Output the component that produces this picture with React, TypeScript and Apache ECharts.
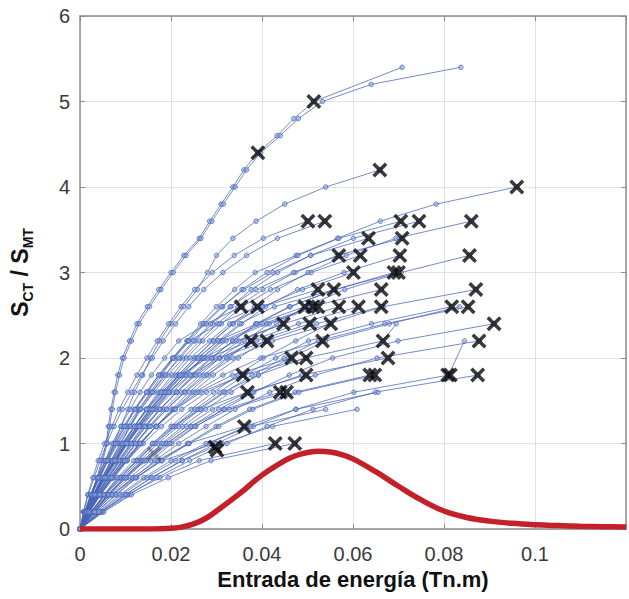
import React, { useEffect, useRef } from "react";
import * as echarts from "echarts";

// Shared y levels (S_CT / S_MT measured in steps of 0.2)
const yLevels = [0, 0.2, 0.4, 0.6, 0.8, 1.0, 1.2, 1.4, 1.6, 1.8, 2.0, 2.2, 2.4, 2.6, 2.8, 3.0, 3.2, 3.4, 3.6, 3.8, 4.0, 4.2, 4.4, 4.6, 4.8, 5.0, 5.2, 5.4];

// Each curve: energy input (x) at successive y levels (null = no sample at that level)
const curves: (number | null)[][] = [
  [0, 0.0012, 0.0025, 0.0037, 0.0048, 0.0058, 0.0062, 0.0068, 0.0075, 0.0083, 0.0093, 0.0109, 0.0125, 0.0148, 0.0173, 0.0200, 0.0228, 0.0262, 0.0285, 0.0310, 0.0336, 0.0360, 0.0391, 0.0433, 0.0470, 0.0514, null, 0.0708],
  [0, 0.0013, 0.0027, 0.0039, 0.0050, 0.0060, 0.0065, 0.0071, 0.0078, 0.0087, 0.0097, 0.0113, 0.0130, 0.0153, 0.0178, 0.0205, 0.0233, 0.0266, 0.0290, 0.0315, 0.0341, 0.0366, 0.0397, 0.0440, 0.0480, 0.0533, 0.0640, 0.0837],
  [0, 0.0015, 0.0030, 0.0045, 0.0060, 0.0075, 0.0090, 0.0105, 0.0120, 0.0138, 0.0155, 0.0175, 0.0200, 0.0228, 0.0258, 0.0280, 0.0300, 0.0336, 0.0387, 0.0450, 0.0540, 0.0659],
  [0, 0.0015, 0.0032, 0.0050, 0.0068, 0.0088, 0.0110, 0.0130, 0.0155, 0.0180, 0.0205, 0.0235, 0.0265, 0.0300, 0.0340, 0.0385, 0.0475, 0.0566, 0.0660, 0.0783, 0.0960],
  [0, 0.0007, 0.0017, 0.0028, 0.0040, 0.0054, 0.0070, 0.0086, 0.0105, 0.0125, 0.0147, 0.0170, 0.0195, 0.0222, 0.0252, 0.0291, 0.0339, 0.0403, 0.0499],
  [0, 0.0008, 0.0018, 0.0031, 0.0044, 0.0059, 0.0075, 0.0093, 0.0114, 0.0135, 0.0159, 0.0183, 0.0210, 0.0239, 0.0272, 0.0314, 0.0366, 0.0434, 0.0538],
  [0, 0.0011, 0.0024, 0.0040, 0.0057, 0.0077, 0.0099, 0.0122, 0.0149, 0.0176, 0.0208, 0.0240, 0.0275, 0.0314, 0.0356, 0.0411, 0.0479, 0.0569, 0.0705],
  [0, 0.0011, 0.0025, 0.0042, 0.0060, 0.0081, 0.0104, 0.0129, 0.0157, 0.0186, 0.0220, 0.0253, 0.0291, 0.0332, 0.0376, 0.0434, 0.0507, 0.0601, 0.0745],
  [0, 0.0013, 0.0029, 0.0049, 0.0070, 0.0094, 0.0120, 0.0149, 0.0181, 0.0215, 0.0254, 0.0292, 0.0335, 0.0383, 0.0434, 0.0501, 0.0585, 0.0694, 0.0860],
  [0, 0.0010, 0.0023, 0.0038, 0.0056, 0.0074, 0.0096, 0.0119, 0.0146, 0.0173, 0.0203, 0.0236, 0.0271, 0.0311, 0.0360, 0.0424, 0.0507, 0.0634],
  [0, 0.0011, 0.0026, 0.0042, 0.0062, 0.0083, 0.0108, 0.0133, 0.0163, 0.0193, 0.0227, 0.0263, 0.0302, 0.0347, 0.0402, 0.0473, 0.0566, 0.0708],
  [0, 0.0014, 0.0030, 0.0048, 0.0068, 0.0090, 0.0111, 0.0134, 0.0159, 0.0188, 0.0216, 0.0250, 0.0287, 0.0330, 0.0387, 0.0469, 0.0569],
  [0, 0.0015, 0.0033, 0.0052, 0.0074, 0.0097, 0.0120, 0.0145, 0.0172, 0.0203, 0.0234, 0.0270, 0.0311, 0.0357, 0.0419, 0.0508, 0.0616],
  [0, 0.0018, 0.0037, 0.0059, 0.0084, 0.0111, 0.0137, 0.0166, 0.0197, 0.0232, 0.0267, 0.0309, 0.0355, 0.0408, 0.0478, 0.0580, 0.0703],
  [0, 0.0021, 0.0045, 0.0072, 0.0103, 0.0135, 0.0167, 0.0202, 0.0240, 0.0282, 0.0325, 0.0376, 0.0432, 0.0496, 0.0582, 0.0706, 0.0856],
  [0, 0.0016, 0.0034, 0.0054, 0.0078, 0.0102, 0.0126, 0.0154, 0.0185, 0.0216, 0.0252, 0.0293, 0.0337, 0.0401, 0.0489, 0.0601],
  [0, 0.0019, 0.0039, 0.0062, 0.0090, 0.0117, 0.0145, 0.0177, 0.0212, 0.0248, 0.0290, 0.0336, 0.0386, 0.0460, 0.0561, 0.0690],
  [0, 0.0014, 0.0031, 0.0052, 0.0076, 0.0103, 0.0133, 0.0166, 0.0203, 0.0243, 0.0288, 0.0336, 0.0390, 0.0462, 0.0560, 0.0700],
  [0, 0.0015, 0.0032, 0.0051, 0.0074, 0.0096, 0.0120, 0.0146, 0.0176, 0.0209, 0.0242, 0.0285, 0.0329, 0.0401, 0.0523],
  [0, 0.0016, 0.0034, 0.0055, 0.0079, 0.0103, 0.0128, 0.0156, 0.0188, 0.0223, 0.0258, 0.0304, 0.0351, 0.0427, 0.0558],
  [0, 0.0019, 0.0040, 0.0065, 0.0094, 0.0122, 0.0152, 0.0185, 0.0223, 0.0264, 0.0307, 0.0361, 0.0416, 0.0507, 0.0662],
  [0, 0.0025, 0.0053, 0.0085, 0.0124, 0.0160, 0.0200, 0.0244, 0.0293, 0.0347, 0.0403, 0.0474, 0.0547, 0.0666, 0.0870],
  [0, 0.0011, 0.0024, 0.0038, 0.0055, 0.0071, 0.0090, 0.0110, 0.0132, 0.0157, 0.0186, 0.0217, 0.0278, 0.0354],
  [0, 0.0012, 0.0026, 0.0042, 0.0060, 0.0078, 0.0099, 0.0121, 0.0146, 0.0173, 0.0205, 0.0239, 0.0306, 0.0390],
  [0, 0.0015, 0.0033, 0.0053, 0.0077, 0.0099, 0.0125, 0.0153, 0.0185, 0.0219, 0.0260, 0.0303, 0.0388, 0.0494],
  [0, 0.0016, 0.0034, 0.0055, 0.0079, 0.0103, 0.0130, 0.0159, 0.0191, 0.0227, 0.0269, 0.0314, 0.0402, 0.0512],
  [0, 0.0016, 0.0035, 0.0056, 0.0081, 0.0105, 0.0132, 0.0162, 0.0196, 0.0232, 0.0275, 0.0321, 0.0411, 0.0523],
  [0, 0.0018, 0.0038, 0.0061, 0.0088, 0.0114, 0.0144, 0.0176, 0.0213, 0.0252, 0.0299, 0.0349, 0.0447, 0.0569],
  [0, 0.0019, 0.0041, 0.0066, 0.0095, 0.0123, 0.0155, 0.0190, 0.0229, 0.0271, 0.0322, 0.0376, 0.0480, 0.0612],
  [0, 0.0021, 0.0044, 0.0071, 0.0103, 0.0133, 0.0167, 0.0205, 0.0248, 0.0293, 0.0348, 0.0406, 0.0520, 0.0662],
  [0, 0.0025, 0.0055, 0.0088, 0.0127, 0.0164, 0.0207, 0.0253, 0.0306, 0.0362, 0.0430, 0.0502, 0.0641, 0.0817],
  [0, 0.0026, 0.0057, 0.0092, 0.0132, 0.0171, 0.0216, 0.0264, 0.0319, 0.0378, 0.0449, 0.0524, 0.0670, 0.0853],
  [0, 0.0030, 0.0062, 0.0098, 0.0138, 0.0180, 0.0226, 0.0276, 0.0332, 0.0392, 0.0462, 0.0540, 0.0680, 0.0834],
  [0, 0.0015, 0.0033, 0.0054, 0.0076, 0.0099, 0.0125, 0.0155, 0.0188, 0.0226, 0.0273, 0.0343, 0.0447],
  [0, 0.0017, 0.0037, 0.0061, 0.0086, 0.0112, 0.0141, 0.0175, 0.0212, 0.0255, 0.0308, 0.0388, 0.0505],
  [0, 0.0018, 0.0040, 0.0066, 0.0094, 0.0122, 0.0154, 0.0191, 0.0231, 0.0278, 0.0336, 0.0423, 0.0551],
  [0, 0.0030, 0.0066, 0.0109, 0.0155, 0.0202, 0.0255, 0.0316, 0.0382, 0.0460, 0.0555, 0.0699, 0.0910],
  [0, 0.0014, 0.0030, 0.0050, 0.0071, 0.0093, 0.0119, 0.0146, 0.0179, 0.0221, 0.0280, 0.0376],
  [0, 0.0015, 0.0033, 0.0055, 0.0077, 0.0102, 0.0130, 0.0160, 0.0195, 0.0242, 0.0306, 0.0411],
  [0, 0.0019, 0.0043, 0.0071, 0.0100, 0.0132, 0.0168, 0.0207, 0.0253, 0.0314, 0.0397, 0.0533],
  [0, 0.0024, 0.0054, 0.0089, 0.0125, 0.0165, 0.0210, 0.0259, 0.0316, 0.0392, 0.0496, 0.0666, 0.0695],
  [0, 0.0032, 0.0071, 0.0118, 0.0165, 0.0217, 0.0277, 0.0341, 0.0417, 0.0517, 0.0653, 0.0877],
  [0, 0.0019, 0.0042, 0.0070, 0.0098, 0.0130, 0.0167, 0.0209, 0.0260, 0.0335, 0.0465],
  [0, 0.0020, 0.0045, 0.0075, 0.0104, 0.0139, 0.0179, 0.0224, 0.0278, 0.0358, 0.0497],
  [0, 0.0027, 0.0061, 0.0102, 0.0142, 0.0190, 0.0244, 0.0305, 0.0379, 0.0487, 0.0677],
  [0, 0.0020, 0.0044, 0.0069, 0.0099, 0.0132, 0.0168, 0.0210, 0.0266, 0.0358],
  [0, 0.0028, 0.0061, 0.0096, 0.0137, 0.0184, 0.0234, 0.0291, 0.0369, 0.0497],
  [0, 0.0036, 0.0078, 0.0123, 0.0176, 0.0236, 0.0299, 0.0373, 0.0473, 0.0637],
  [0, 0.0037, 0.0080, 0.0125, 0.0179, 0.0240, 0.0305, 0.0380, 0.0481, 0.0648],
  [0, 0.0046, 0.0100, 0.0156, 0.0224, 0.0300, 0.0381, 0.0475, 0.0602, 0.0810, null, 0.0845],
  [0, 0.0050, 0.0108, 0.0169, 0.0241, 0.0323, 0.0411, 0.0512, 0.0649, 0.0874],
  [0, 0.0024, 0.0052, 0.0082, 0.0118, 0.0159, 0.0204, 0.0266, 0.0368],
  [0, 0.0029, 0.0062, 0.0098, 0.0141, 0.0191, 0.0244, 0.0318, 0.0440],
  [0, 0.0030, 0.0064, 0.0101, 0.0145, 0.0197, 0.0252, 0.0328, 0.0454],
  [0, 0.0032, 0.0070, 0.0116, 0.0170, 0.0238, 0.0361],
  [0, 0.0047, 0.0103, 0.0176, 0.0262, 0.0429],
  [0, 0.0052, 0.0113, 0.0194, 0.0288, 0.0472],
  [0, 0.0033, 0.0071, 0.0122, 0.0181, 0.0297],
  [0, 0.0046, 0.0099, 0.0158, 0.0225, 0.0312, 0.0423, 0.0609],
  [0, 0.0043, 0.0092, 0.0146, 0.0210, 0.0284, 0.0364, 0.0474, 0.0655],
  [0, 0.0041, 0.0087, 0.0140, 0.0200, 0.0277, 0.0375, 0.0540],
];

// Failure points (black crosses)
const crossX = [0.0391, 0.0514, 0.0659, 0.0960, 0.0501, 0.0538, 0.0705, 0.0745, 0.0860, 0.0634, 0.0708, 0.0569, 0.0616, 0.0703, 0.0856, 0.0601, 0.0690, 0.0700, 0.0523, 0.0558, 0.0662, 0.0870, 0.0354, 0.0390, 0.0494, 0.0512, 0.0523, 0.0569, 0.0612, 0.0662, 0.0817, 0.0853, 0.0447, 0.0505, 0.0551, 0.0910, 0.0376, 0.0411, 0.0533, 0.0666, 0.0877, 0.0465, 0.0497, 0.0677, 0.0358, 0.0497, 0.0637, 0.0648, 0.0808, 0.0814, 0.0874, 0.0368, 0.0440, 0.0454, 0.0361, 0.0297, 0.0301, 0.0429, 0.0472];
const crossY = [4.4, 5.0, 4.2, 4.0, 3.6, 3.6, 3.6, 3.6, 3.6, 3.4, 3.4, 3.2, 3.2, 3.2, 3.2, 3.0, 3.0, 3.0, 2.8, 2.8, 2.8, 2.8, 2.6, 2.6, 2.6, 2.6, 2.6, 2.6, 2.6, 2.6, 2.6, 2.6, 2.4, 2.4, 2.4, 2.4, 2.2, 2.2, 2.2, 2.2, 2.2, 2.0, 2.0, 2.0, 1.8, 1.8, 1.8, 1.8, 1.8, 1.8, 1.8, 1.6, 1.6, 1.6, 1.2, 0.96, 0.92, 1.0, 1.0];
const faintCrossX = [0.0163];
const faintCrossY = [0.88];

// Distribution curve (red)
const densX = [0, 0.005, 0.01, 0.015, 0.02, 0.0225, 0.025, 0.0275, 0.03, 0.035, 0.04, 0.045, 0.0475, 0.05, 0.0525, 0.055, 0.0575, 0.06, 0.065, 0.07, 0.075, 0.08, 0.085, 0.09, 0.095, 0.1, 0.105, 0.11, 0.115, 0.12];
const densY = [0, 0, 0, 0.001, 0.008, 0.025, 0.06, 0.12, 0.21, 0.41, 0.63, 0.8, 0.86, 0.895, 0.91, 0.9, 0.87, 0.82, 0.67, 0.5, 0.34, 0.21, 0.135, 0.092, 0.066, 0.05, 0.04, 0.032, 0.027, 0.022];

const xTickLabels = ["0", "0.02", "0.04", "0.06", "0.08", "0.1", ""];
const yTickLabels = ["0", "1", "2", "3", "4", "5", "6"];

const FONT = "'Liberation Sans', Arial, Helvetica, sans-serif";
const CROSS = "path://M2,0L6,4L10,0L12,2L8,6L12,10L10,12L6,8L2,12L0,10L4,6L0,2Z";

export default function App() {
  const ref = useRef<HTMLDivElement>(null);
  useEffect(() => {
    document.body.style.margin = "0";
    if (!ref.current) return;
    const chart = echarts.init(ref.current, undefined, { renderer: "svg" });

    const blueSeries = curves.map((xs) => ({
      type: "line",
      xAxisIndex: 0,
      yAxisIndex: 0,
      data: xs
        .map((x, i) => (x === null ? null : [x, yLevels[i]]))
        .filter((p) => p !== null),
      symbol: "circle",
      symbolSize: 4.5,
      showSymbol: true,
      lineStyle: { color: "rgba(72,100,182,0.75)", width: 1 },
      itemStyle: { color: "rgba(140,162,220,0.55)", borderColor: "#4a68b8", borderWidth: 0.8 },
      z: 2,
      silent: true,
    }));

    const axisLineStyle = { color: "#8c8c8c", width: 1.5 };

    chart.setOption({
      animation: false,
      grid: { left: 77, top: 16, width: 558, height: 513, containLabel: false },
      xAxis: [
        {
          type: "value",
          min: 0,
          max: 0.12,
          interval: 0.02,
          position: "bottom",
          axisLine: { show: true, onZero: false, lineStyle: axisLineStyle },
          axisTick: { show: true, inside: true, length: 5, lineStyle: { color: "#8c8c8c" } },
          axisLabel: {
            formatter: (_v: number, i: number) => xTickLabels[i] ?? "",
            fontSize: 20,
            color: "#3a3a3a",
            fontFamily: FONT,
            margin: 15,
          },
          splitLine: { show: true, lineStyle: { color: "#e2e2e2", width: 1 } },
          name: "Entrada de energía (Tn.m)",
          nameLocation: "middle",
          nameGap: 37,
          nameTextStyle: { fontSize: 22, fontWeight: "bold", color: "#111", fontFamily: FONT },
        },
        {
          type: "value",
          min: 0,
          max: 0.12,
          interval: 0.02,
          position: "top",
          axisLine: { show: true, onZero: false, lineStyle: axisLineStyle },
          axisTick: { show: true, inside: true, length: 5, lineStyle: { color: "#8c8c8c" } },
          axisLabel: { show: false },
          splitLine: { show: false },
        },
      ],
      yAxis: [
        {
          type: "value",
          min: 0,
          max: 6,
          interval: 1,
          position: "left",
          axisLine: { show: true, onZero: false, lineStyle: axisLineStyle },
          axisTick: { show: true, inside: true, length: 5, lineStyle: { color: "#8c8c8c" } },
          axisLabel: {
            formatter: (_v: number, i: number) => yTickLabels[i] ?? "",
            fontSize: 20,
            color: "#3a3a3a",
            fontFamily: FONT,
            margin: 10,
          },
          splitLine: { show: true, lineStyle: { color: "#e2e2e2", width: 1 } },
          name: "{s|S}{sub|CT}{s| / S}{sub|MT}",
          nameLocation: "middle",
          nameRotate: 90,
          nameGap: 45,
          nameTextStyle: {
            fontFamily: FONT,
            color: "#111",
            rich: {
              s: { fontSize: 23, fontWeight: "bold", fontFamily: FONT, color: "#111", verticalAlign: "bottom", lineHeight: 24, padding: [0, 0, 4, 0] },
              sub: { fontSize: 14, fontWeight: "bold", fontFamily: FONT, color: "#111", verticalAlign: "bottom", lineHeight: 15 },
            },
          },
        },
        {
          type: "value",
          min: 0,
          max: 6,
          interval: 1,
          position: "right",
          axisLine: { show: true, onZero: false, lineStyle: axisLineStyle },
          axisTick: { show: true, inside: true, length: 5, lineStyle: { color: "#8c8c8c" } },
          axisLabel: { show: false },
          splitLine: { show: false },
        },
      ],
      series: [
        ...blueSeries,
        {
          type: "line",
          data: densX.map((x, i) => [x, densY[i]]),
          smooth: 0.4,
          showSymbol: false,
          symbol: "none",
          lineStyle: { color: "#c4202a", width: 5.5 },
          z: 3,
          silent: true,
        },
        {
          type: "scatter",
          data: faintCrossX.map((x, i) => [x, faintCrossY[i]]),
          symbol: CROSS,
          symbolSize: 15,
          itemStyle: { color: "rgba(40,40,60,0.45)" },
          z: 3,
          silent: true,
        },
        {
          type: "scatter",
          data: crossX.map((x, i) => [x, crossY[i]]),
          symbol: CROSS,
          symbolSize: 15,
          itemStyle: { color: "#0a0a0a" },
          z: 4,
          silent: true,
        },
      ],
    });
    return () => chart.dispose();
  }, []);
  return <div ref={ref} style={{ width: 629, height: 599 }} />;
}
